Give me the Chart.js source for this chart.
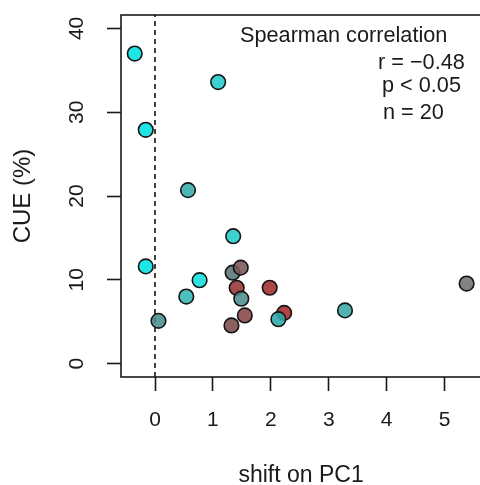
<!DOCTYPE html>
<html>
<head>
<meta charset="utf-8">
<script src="https://cdn.jsdelivr.net/npm/chart.js@4/dist/chart.umd.min.js"></script>
<style>
html, body { margin:0; padding:0; overflow:hidden; background:#fff; width:480px; height:485px; }
canvas { display:block; }
</style>
</head>
<body>
<canvas id="c" width="490" height="485"></canvas>
<script>
// ---- data ----
const shiftPC1 = [-0.35, -0.16, 1.09, 0.57, 1.35, -0.16, 0.77, 0.54, 0.06, 3.28, 5.38, 1.98, 1.34, 1.48, 1.41, 1.49, 1.55, 1.32, 2.23, 2.13];
const cuePct   = [37.0, 27.9, 33.6, 20.7, 15.2, 11.6, 9.95, 8.0, 5.1, 6.35, 9.55, 9.05, 10.85, 11.45, 9.05, 7.75, 5.75, 4.55, 6.05, 5.3];
const pointColors = ['#00E3E3','#00E0E0','#22CCCC','#36ABAB','#22CBCB','#00E3E3','#12DCDC','#33B6B6','#4A8C8C','#3AA6A6','#727070','#A02E2E','#5A7474','#7A5858','#983434','#4C8E8E','#8A4646','#7A4A4A','#A82828','#2FA8A8'];
const xTicks = [0, 1, 2, 3, 4, 5];
const yTicks = [0, 10, 20, 30, 40];
const xRange = [-0.587, 5.63];
const yRange = [-1.6, 41.6];
const statLines = ['Spearman correlation', 'r = \u22120.48', 'p < 0.05', 'n = 20'];

const FONT = '"Liberation Sans", Arial, Helvetica, sans-serif';

function hexA(h, a) {
  const r = parseInt(h.slice(1,3),16), g = parseInt(h.slice(3,5),16), b = parseInt(h.slice(5,7),16);
  return `rgba(${r},${g},${b},${a})`;
}

const points = shiftPC1.map((x, i) => ({x, y: cuePct[i]}));

const decor = {
  id: 'decor',
  afterDatasetsDraw(chart) {
    const {ctx, chartArea: ca, scales} = chart;
    ctx.save();
    // box
    ctx.strokeStyle = '#1a1a1a';
    ctx.lineWidth = 1.6;
    ctx.strokeRect(ca.left, ca.top, ca.right - ca.left, ca.bottom - ca.top);
    // y tick labels (rotated, as in R)
    ctx.fillStyle = '#1a1a1a';
    ctx.font = '21px ' + FONT;
    ctx.textAlign = 'center';
    ctx.textBaseline = 'middle';
    yTicks.forEach(v => {
      const py = scales.y.getPixelForValue(v);
      ctx.save();
      ctx.translate(77, py);
      ctx.rotate(-Math.PI / 2);
      ctx.fillText(String(v), 0, 0);
      ctx.restore();
    });
    // stats annotation
    ctx.font = '21.7px ' + FONT;
    ctx.textAlign = 'left';
    ctx.fillText(statLines[0], ca.left + 119, ca.top + 21);
    ctx.fillText(statLines[1], ca.left + 257, ca.top + 48);
    ctx.fillText(statLines[2], ca.left + 261, ca.top + 71);
    ctx.fillText(statLines[3], ca.left + 262, ca.top + 98);
    ctx.restore();
  }
};

new Chart(document.getElementById('c'), {
  data: {
    datasets: [
      {
        type: 'line',
        data: [{x: 0, y: yRange[0]}, {x: 0, y: yRange[1]}],
        borderColor: '#222',
        borderWidth: 1.7,
        borderDash: [5, 4],
        pointRadius: 0,
        order: 2
      },
      {
        type: 'scatter',
        data: points,
        backgroundColor: pointColors.map(c => hexA(c, 0.88)),
        borderColor: '#151515',
        borderWidth: 1.6,
        pointRadius: 7.3,
        order: 1
      }
    ]
  },
  options: {
    responsive: false,
    animation: false,
    layout: { padding: { top: 15, left: 0, right: 6, bottom: 0 } },
    plugins: { legend: { display: false }, tooltip: { enabled: false } },
    scales: {
      x: {
        type: 'linear',
        min: xRange[0], max: xRange[1],
        afterBuildTicks(s) { s.ticks = xTicks.map(v => ({value: v})); },
        afterFit(s) { s.height = 108; },
        border: { display: false },
        grid: { drawOnChartArea: false, drawTicks: true, tickLength: 14, tickWidth: 1.6, tickColor: '#1a1a1a' },
        ticks: { color: '#1a1a1a', font: { family: FONT, size: 21 }, padding: 17, maxRotation: 0 },
        title: { display: true, text: 'shift on PC1', color: '#1a1a1a', font: { family: FONT, size: 23, lineHeight: 0.7 }, padding: { top: 1, bottom: 1 } }
      },
      y: {
        type: 'linear',
        min: yRange[0], max: yRange[1],
        afterBuildTicks(s) { s.ticks = yTicks.map(v => ({value: v})); },
        afterFit(s) { s.width = 121; },
        border: { display: false },
        grid: { drawOnChartArea: false, drawTicks: true, tickLength: 14, tickWidth: 1.6, tickColor: '#1a1a1a' },
        ticks: { display: false },
        title: { display: true, text: 'CUE (%)', color: '#1a1a1a', font: { family: FONT, size: 24, lineHeight: 1.2 }, padding: { top: 9, bottom: 9 } }
      }
    }
  },
  plugins: [decor]
});
</script>
</body>
</html>
